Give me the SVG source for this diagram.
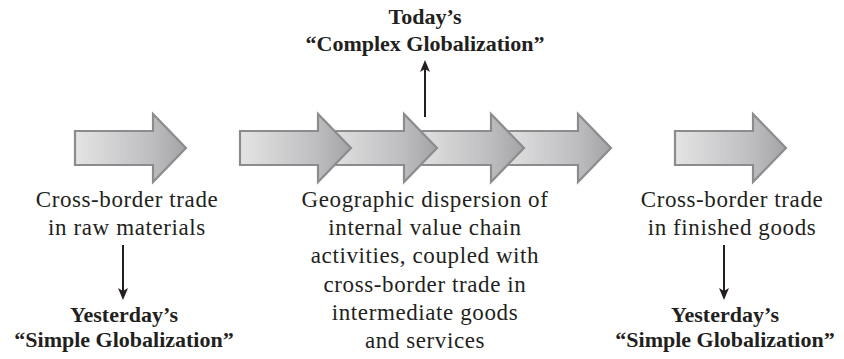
<svg xmlns="http://www.w3.org/2000/svg" width="844" height="359" viewBox="0 0 844 359">
  <style>
    .blk { fill: url(#shade); stroke: #8c8c8e; stroke-width: 2.2; }
    .ln { stroke: #231f20; stroke-width: 2; fill: none; }
    .hd { fill: #231f20; }
  </style>
  <linearGradient id="shade" x1="0" y1="0" x2="1" y2="0">
    <stop offset="0" stop-color="#e4e4e5"/>
    <stop offset="0.7" stop-color="#bdbdbf"/>
    <stop offset="1" stop-color="#a3a3a5"/>
  </linearGradient>

  <g id="raw-materials">
    <path class="blk" d="M75,131 H153 V114 L186,148 L153,182 V165 H75 Z"/>
    <text font-family="Liberation Serif" font-size="23" letter-spacing="0.6" fill="#231f20" text-anchor="middle" x="127" y="207">Cross-border trade</text>
    <text font-family="Liberation Serif" font-size="23" letter-spacing="0.6" fill="#231f20" text-anchor="middle" x="127" y="235">in raw materials</text>
  </g>

  <g id="value-chain">
    <path class="blk" d="M500,131 H578 V114 L611,148 L578,182 V165 H500 Z"/>
    <path class="blk" d="M413,131 H491 V114 L524,148 L491,182 V165 H413 Z"/>
    <path class="blk" d="M326,131 H404 V114 L437,148 L404,182 V165 H326 Z"/>
    <path class="blk" d="M240,131 H318 V114 L351,148 L318,182 V165 H240 Z"/>
    <text font-family="Liberation Serif" font-size="23" letter-spacing="0.6" fill="#231f20" text-anchor="middle" x="425" y="207">Geographic dispersion of</text>
    <text font-family="Liberation Serif" font-size="23" letter-spacing="0.6" fill="#231f20" text-anchor="middle" x="425" y="235">internal value chain</text>
    <text font-family="Liberation Serif" font-size="23" letter-spacing="0.6" fill="#231f20" text-anchor="middle" x="425" y="263">activities, coupled with</text>
    <text font-family="Liberation Serif" font-size="23" letter-spacing="0.6" fill="#231f20" text-anchor="middle" x="425" y="292">cross-border trade in</text>
    <text font-family="Liberation Serif" font-size="23" letter-spacing="0.6" fill="#231f20" text-anchor="middle" x="425" y="320">intermediate goods</text>
    <text font-family="Liberation Serif" font-size="23" letter-spacing="0.6" fill="#231f20" text-anchor="middle" x="425" y="348">and services</text>
  </g>

  <g id="finished-goods">
    <path class="blk" d="M675,131 H753 V114 L786,148 L753,182 V165 H675 Z"/>
    <text font-family="Liberation Serif" font-size="23" letter-spacing="0.6" fill="#231f20" text-anchor="middle" x="732" y="207">Cross-border trade</text>
    <text font-family="Liberation Serif" font-size="23" letter-spacing="0.6" fill="#231f20" text-anchor="middle" x="732" y="235">in finished goods</text>
  </g>

  <g id="complex-label">
    <text font-family="Liberation Serif" font-size="22" font-weight="bold" fill="#231f20" text-anchor="middle" x="425" y="24">Today’s</text>
    <text font-family="Liberation Serif" font-size="22" font-weight="bold" fill="#231f20" text-anchor="middle" x="425" y="51">“Complex Globalization”</text>
  </g>

  <g id="simple-label-left">
    <text font-family="Liberation Serif" font-size="22" font-weight="bold" fill="#231f20" text-anchor="middle" x="124" y="322">Yesterday’s</text>
    <text font-family="Liberation Serif" font-size="22" font-weight="bold" fill="#231f20" text-anchor="middle" x="124" y="347">“Simple Globalization”</text>
  </g>

  <g id="simple-label-right">
    <text font-family="Liberation Serif" font-size="22" font-weight="bold" fill="#231f20" text-anchor="middle" x="725" y="322">Yesterday’s</text>
    <text font-family="Liberation Serif" font-size="22" font-weight="bold" fill="#231f20" text-anchor="middle" x="725" y="347">“Simple Globalization”</text>
  </g>

  <g id="connectors">
    <line class="ln" x1="425" y1="117" x2="425" y2="68"/>
    <path class="hd" d="M425,60 L430,72 L425,69 L420,72 Z"/>
    <line class="ln" x1="123" y1="245" x2="123" y2="292"/>
    <path class="hd" d="M123,300 L128,288 L123,291 L118,288 Z"/>
    <line class="ln" x1="724" y1="245" x2="724" y2="292"/>
    <path class="hd" d="M724,300 L729,288 L724,291 L719,288 Z"/>
  </g>
</svg>
